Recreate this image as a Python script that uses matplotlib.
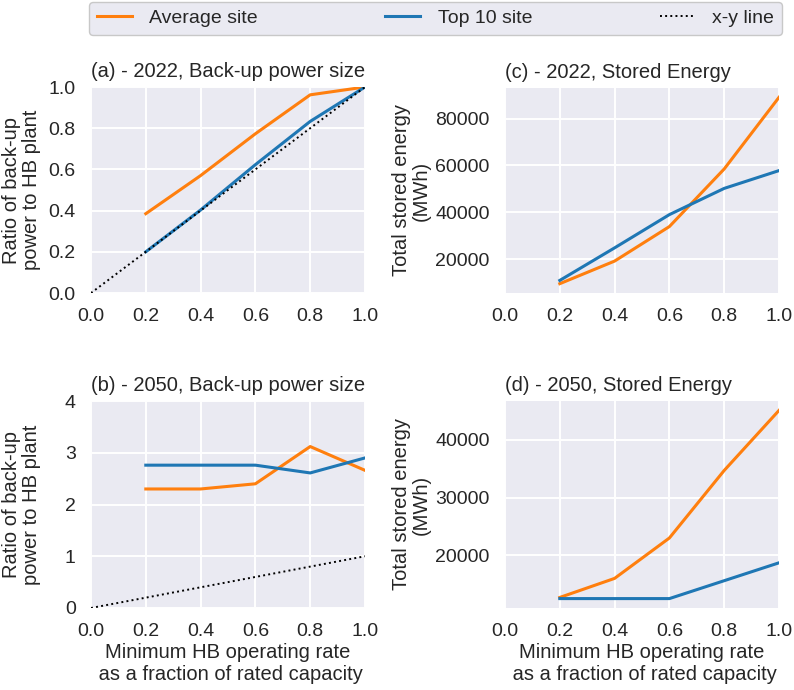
import matplotlib
matplotlib.use("Agg")
import matplotlib.pyplot as plt

# x: minimum HB operating rate (fraction of rated capacity)
rates = [0.2, 0.4, 0.6, 0.8, 1.0]
xy_line = [0.0, 1.0]
x_ticks = [0.0, 0.2, 0.4, 0.6, 0.8, 1.0]

# (a) 2022 back-up power ratio
ratio_2022_avg = [0.385, 0.57, 0.773, 0.962, 1.0]
ratio_2022_top = [0.2, 0.403, 0.623, 0.833, 1.0]
# (b) 2050 back-up power ratio
ratio_2050_avg = [2.30, 2.30, 2.40, 3.12, 2.66]
ratio_2050_top = [2.76, 2.76, 2.76, 2.61, 2.90]
# (c) 2022 stored energy (MWh)
energy_2022_avg = [9500, 19150, 33900, 58500, 89100]
energy_2022_top = [10900, 24800, 39000, 50200, 57800]
# (d) 2050 stored energy (MWh)
energy_2050_avg = [12700, 16000, 23000, 34700, 45100]
energy_2050_top = [12500, 12500, 12500, 15600, 18700]

ORANGE = "#ff7f0e"
BLUE = "#1f77b4"

plt.rcParams["font.family"] = ["Liberation Sans", "DejaVu Sans"]
plt.rcParams["font.size"] = 14
plt.rcParams["text.color"] = "#262626"
plt.rcParams["axes.labelcolor"] = "#262626"
plt.rcParams["xtick.color"] = "#262626"
plt.rcParams["ytick.color"] = "#262626"

fig = plt.figure(figsize=(7.94, 6.90), dpi=100)

W, H = 794, 690


def make_axes(left, top, right, bottom):
    return fig.add_axes([left / W, 1 - bottom / H, (right - left) / W, (bottom - top) / H])


ax_a = make_axes(91, 87, 365, 293)
ax_c = make_axes(505, 88, 779, 293)
ax_b = make_axes(91, 401, 365, 608)
ax_d = make_axes(505, 401, 779, 608)

ratio_label = "Ratio of back-up\npower to HB plant"
energy_label = "Total stored energy\n(MWh)"
x_label = "Minimum HB operating rate\n as a fraction of rated capacity"

panels = [
    (ax_a, ratio_2022_avg, ratio_2022_top, True, "(a) - 2022, Back-up power size", ratio_label, -0.183),
    (ax_b, ratio_2050_avg, ratio_2050_top, True, "(b) - 2050, Back-up power size", ratio_label, -0.183),
    (ax_c, energy_2022_avg, energy_2022_top, False, "(c) - 2022, Stored Energy", energy_label, -0.272),
    (ax_d, energy_2050_avg, energy_2050_top, False, "(d) - 2050, Stored Energy", energy_label, -0.272),
]

for ax, avg, top, with_xy, title, ylab, ylab_x in panels:
    ax.set_facecolor("#EAEAF2")
    ax.grid(True, color="white", linewidth=1.4)
    ax.set_axisbelow(True)
    for s in ax.spines.values():
        s.set_visible(False)
    ax.plot(rates, avg, color=ORANGE, linewidth=2.2, label="Average site")
    ax.plot(rates, top, color=BLUE, linewidth=2.2, label="Top 10 site")
    if with_xy:
        ax.plot(xy_line, xy_line, color="black", linestyle=":", linewidth=1.4, label="x-y line")
    ax.set_xlim(0, 1)
    ax.set_xticks(x_ticks)
    ax.set_title(title, loc="left", fontsize=14.5, pad=7)
    ax.set_ylabel(ylab, fontsize=14.5, linespacing=1.05)
    ax.yaxis.set_label_coords(ylab_x, 0.5)
    ax.tick_params(length=0, pad=11, labelsize=14)

ax_a.set_ylim(0, 1)
ax_b.set_ylim(0, 4)
ax_b.set_yticks([0, 1, 2, 3, 4])
ax_b.set_xlabel(x_label, fontsize=14.5, labelpad=2)
ax_d.set_xlabel(x_label, fontsize=14.5, labelpad=2)

handles, labels = ax_a.get_legend_handles_labels()
leg = fig.legend(handles, labels, loc="lower left", ncol=3, mode="expand",
                 bbox_to_anchor=(89 / W, 1 - 35 / H, (782 - 89) / W, 31 / H),
                 fontsize=14, fancybox=True, frameon=True, borderaxespad=0,
                 handlelength=1.8, handletextpad=0.9)
leg.get_frame().set_facecolor("#EAEAF2")
leg.get_frame().set_edgecolor("#c8c8c8")
leg.get_frame().set_alpha(1)

fig.savefig("out.png", dpi=100)
